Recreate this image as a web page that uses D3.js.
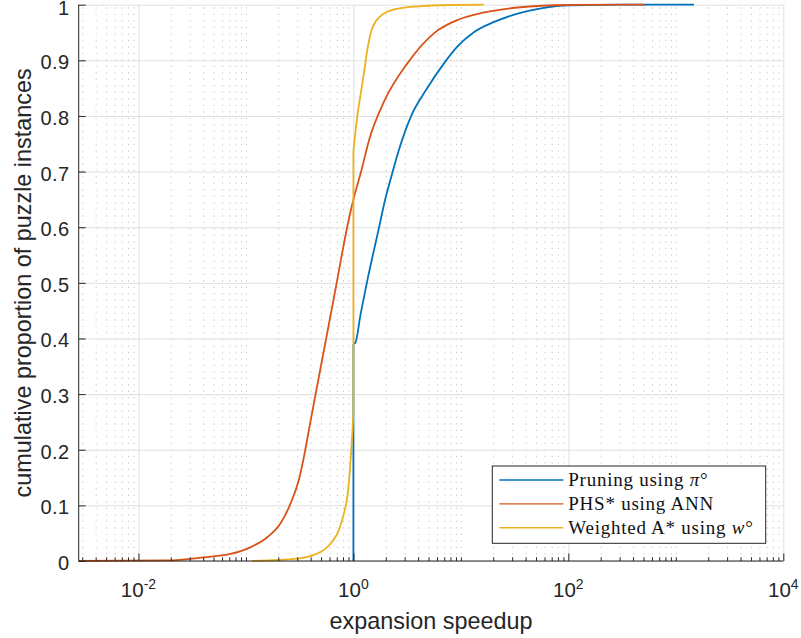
<!DOCTYPE html>
<html>
<head>
<meta charset="utf-8">
<script src="https://cdn.jsdelivr.net/npm/d3@7"></script>
<style>
  body { margin: 0; background: #ffffff; }
  svg { display: block; }
</style>
</head>
<body>
<svg id="chart" width="801" height="638"></svg>
<script>
// Empirical CDFs of the expansion speedup for three methods.
const pruningSpeedup = [1, 1, 1.04, 1.17, 1.35, 1.72, 1.97, 2.23, 2.65, 3.50, 4.75, 6.99, 9.31, 13.3, 20.4, 33.7, 55.7, 102, 409, 1475];
const pruningCdf     = [0, 0.39, 0.392, 0.445, 0.505, 0.597, 0.649, 0.688, 0.739, 0.803, 0.847, 0.895, 0.925, 0.951, 0.969, 0.984, 0.9935, 0.999, 1, 1];

const phsSpeedup = [0.00278, 0.0185, 0.0405, 0.0719, 0.110, 0.158, 0.210, 0.261, 0.311, 0.352, 0.385, 0.445, 0.558, 0.699, 0.875, 1.007, 1.18, 1.40, 1.93, 3.19, 5.64, 9.31, 16.5, 33.7, 98.7, 511];
const phsCdf     = [0, 0.001, 0.0066, 0.0126, 0.0246, 0.0426, 0.0678, 0.104, 0.146, 0.194, 0.235, 0.30, 0.40, 0.50, 0.60, 0.652, 0.70, 0.757, 0.826, 0.895, 0.949, 0.9725, 0.986, 0.995, 0.9995, 1];

const weightedSpeedup = [0.1145, 0.203, 0.323, 0.430, 0.532, 0.637, 0.734, 0.817, 0.879, 0.929, 0.964, 0.99, 1, 1, 1.03, 1.08, 1.17, 1.26, 1.35, 1.50, 1.80, 2.39, 3.95, 8.07, 16.3];
const weightedCdf     = [0, 0.0018, 0.005, 0.011, 0.020, 0.035, 0.056, 0.086, 0.116, 0.164, 0.212, 0.25, 0.27, 0.736, 0.76, 0.795, 0.84, 0.88, 0.92, 0.958, 0.98, 0.9915, 0.997, 0.9995, 1];

const seriesColors = ["#0072BD", "#D95319", "#EDB120"];
const legendLead   = ["Pruning using ", "PHS* using ANN", "Weighted A* using "];
const legendSymbol = ["π", "", "w"];

const xDomain = [0.00278, 1e4];
const xTickValues    = [1e-2, 1e0, 1e2, 1e4];
const xTickExponents = ["-2", "0", "2", "4"];
const yTickValues = [0, 0.1, 0.2, 0.3, 0.4, 0.5, 0.6, 0.7, 0.8, 0.9, 1];
const yTickLabels = ["0", "0.1", "0.2", "0.3", "0.4", "0.5", "0.6", "0.7", "0.8", "0.9", "1"];

const xLabel = "expansion speedup";
const yLabel = "cumulative proportion of puzzle instances";

// ---- layout ----
const plot = { left: 78.7, right: 783.3, top: 4.7, bottom: 561 };
const textColor = "#262626";
const sansFont = "'Liberation Sans', Arial, Helvetica, sans-serif";
const serifFont = "'Liberation Serif', 'Times New Roman', serif";

const svg = d3.select("#chart");

const x = d3.scaleLog().domain(xDomain).range([plot.left, plot.right]);
const y = d3.scaleLinear().domain([0, 1]).range([plot.bottom, plot.top]);
const plotH = plot.bottom - plot.top;
const plotW = plot.right - plot.left;

// minor log positions: every k*10^n inside the domain that is not a labelled tick
const minorTicks = [];
for (let n = -3; n <= 4; n++) {
  for (let k = 1; k <= 9; k++) {
    const v = k * Math.pow(10, n);
    if (v >= xDomain[0] && v <= xDomain[1] && !xTickValues.some(t => Math.abs(t - v) / v < 1e-9)) minorTicks.push(v);
  }
}

// ---- grid ----
const grid = svg.append("g");
grid.append("g")
  .attr("transform", `translate(0,${plot.bottom})`)
  .call(d3.axisBottom(x).tickValues(minorTicks).tickSize(-plotH).tickFormat(""))
  .call(g => g.select(".domain").remove())
  .call(g => g.selectAll("line").attr("stroke", "#c4c4c4").attr("stroke-width", 1)
    .attr("stroke-dasharray", "1.2,5.3"));
grid.append("g")
  .attr("transform", `translate(0,${plot.bottom})`)
  .call(d3.axisBottom(x).tickValues(xTickValues).tickSize(-plotH).tickFormat(""))
  .call(g => g.select(".domain").remove())
  .call(g => g.selectAll("line").attr("stroke", "#dfdfdf").attr("stroke-width", 1));
grid.append("g")
  .attr("transform", `translate(${plot.left},0)`)
  .call(d3.axisLeft(y).tickValues(yTickValues).tickSize(-plotW).tickFormat(""))
  .call(g => g.select(".domain").remove())
  .call(g => g.selectAll("line").attr("stroke", "#dfdfdf").attr("stroke-width", 1));

// ---- curves ----
// Each CDF is split at its vertical jumps (repeated speedup values); the
// pieces in between are drawn as smooth monotone curves.
function splitAtJumps(xs, ps) {
  const pts = d3.zip(xs, ps);
  const pieces = [[pts[0]]];
  for (let i = 1; i < pts.length; i++) {
    const prev = pts[i - 1];
    if (pts[i][0] === prev[0]) {
      pieces.push([prev, pts[i]]);           // straight vertical jump
      pieces.push([pts[i]]);
    } else {
      pieces[pieces.length - 1].push(pts[i]);
    }
  }
  return pieces.filter(p => p.length > 1);
}
const series = [
  splitAtJumps(pruningSpeedup, pruningCdf),
  splitAtJumps(phsSpeedup, phsCdf),
  splitAtJumps(weightedSpeedup, weightedCdf)
];
const smooth = d3.line().x(d => x(d[0])).y(d => y(d[1])).curve(d3.curveMonotoneX);
const straight = d3.line().x(d => x(d[0])).y(d => y(d[1]));
svg.append("g").selectAll("path")
  .data(series)
  .join("path")
  .attr("d", pieces => pieces.map(p => (p[0][0] === p[p.length - 1][0] ? straight(p) : smooth(p))).join(""))
  .attr("fill", "none")
  .attr("stroke", (d, i) => seriesColors[i])
  .attr("stroke-width", 1.8)
  .attr("stroke-linejoin", "round");

// ---- axes ----
const axes = svg.append("g");
axes.append("g")
  .attr("transform", `translate(0,${plot.bottom})`)
  .call(d3.axisBottom(x).tickValues(minorTicks).tickSizeInner(-3.7).tickSizeOuter(0).tickFormat(""))
  .call(g => g.select(".domain").remove())
  .call(g => g.selectAll("line").attr("stroke", textColor));
axes.append("g")
  .attr("transform", `translate(0,${plot.bottom})`)
  .call(d3.axisBottom(x).tickValues(xTickValues).tickSizeInner(-7.5).tickSizeOuter(0).tickFormat(""))
  .call(g => g.select(".domain").attr("stroke", textColor).attr("d", `M${plot.left},0H${plot.right}`))
  .call(g => g.selectAll("line").attr("stroke", textColor));
axes.append("g")
  .attr("transform", `translate(${plot.left},0)`)
  .call(d3.axisLeft(y).tickValues(yTickValues).tickSizeInner(-7).tickSizeOuter(0).tickFormat(""))
  .call(g => g.select(".domain").attr("stroke", textColor).attr("d", `M0,${plot.top}V${plot.bottom}`))
  .call(g => g.selectAll("line").attr("stroke", textColor));

// x tick labels as powers of ten
xTickValues.forEach((v, i) => {
  const t = svg.append("text")
    .attr("x", x(v))
    .attr("y", 597.3)
    .attr("text-anchor", "middle")
    .attr("font-family", sansFont)
    .attr("font-size", 20.5)
    .attr("fill", textColor);
  t.append("tspan").text("10");
  t.append("tspan").attr("dy", -8.5).attr("font-size", 14).text(xTickExponents[i]);
});

// y tick labels (the topmost one is kept inside the page)
svg.append("g").selectAll("text")
  .data(yTickValues)
  .join("text")
  .attr("x", 69.5)
  .attr("y", d => Math.max(y(d) + 9, 14.6))
  .attr("text-anchor", "end")
  .attr("font-family", sansFont)
  .attr("font-size", 20)
  .attr("letter-spacing", 0.4)
  .attr("fill", textColor)
  .text((d, i) => yTickLabels[i]);

// axis titles
svg.append("text")
  .attr("x", (plot.left + plot.right) / 2)
  .attr("y", 629)
  .attr("text-anchor", "middle")
  .attr("font-family", sansFont)
  .attr("font-size", 23.4)
  .attr("fill", textColor)
  .text(xLabel);
svg.append("text")
  .attr("transform", `translate(31,${(plot.top + plot.bottom) / 2}) rotate(-90)`)
  .attr("text-anchor", "middle")
  .attr("font-family", sansFont)
  .attr("font-size", 23.4)
  .attr("fill", textColor)
  .text(yLabel);

// ---- legend ----
const legend = svg.append("g");
legend.append("rect")
  .attr("x", 492.3).attr("y", 466)
  .attr("width", 273.4).attr("height", 77.3)
  .attr("fill", "#ffffff")
  .attr("stroke", textColor)
  .attr("stroke-width", 1);
legendLead.forEach((lead, i) => {
  const cy = 480 + i * 23.85;
  legend.append("line")
    .attr("x1", 499.3).attr("x2", 563.3)
    .attr("y1", cy).attr("y2", cy)
    .attr("stroke", seriesColors[i])
    .attr("stroke-width", 1.4);
  const t = legend.append("text")
    .attr("x", 568.3)
    .attr("y", cy + 6.3)
    .attr("font-family", serifFont)
    .attr("font-size", 19)
    .attr("letter-spacing", 0.75)
    .attr("fill", "#111111");
  t.append("tspan").text(lead);
  if (legendSymbol[i]) {
    t.append("tspan").attr("font-style", "italic").text(legendSymbol[i]);
    t.append("tspan").text("°");
  }
});
</script>
</body>
</html>
